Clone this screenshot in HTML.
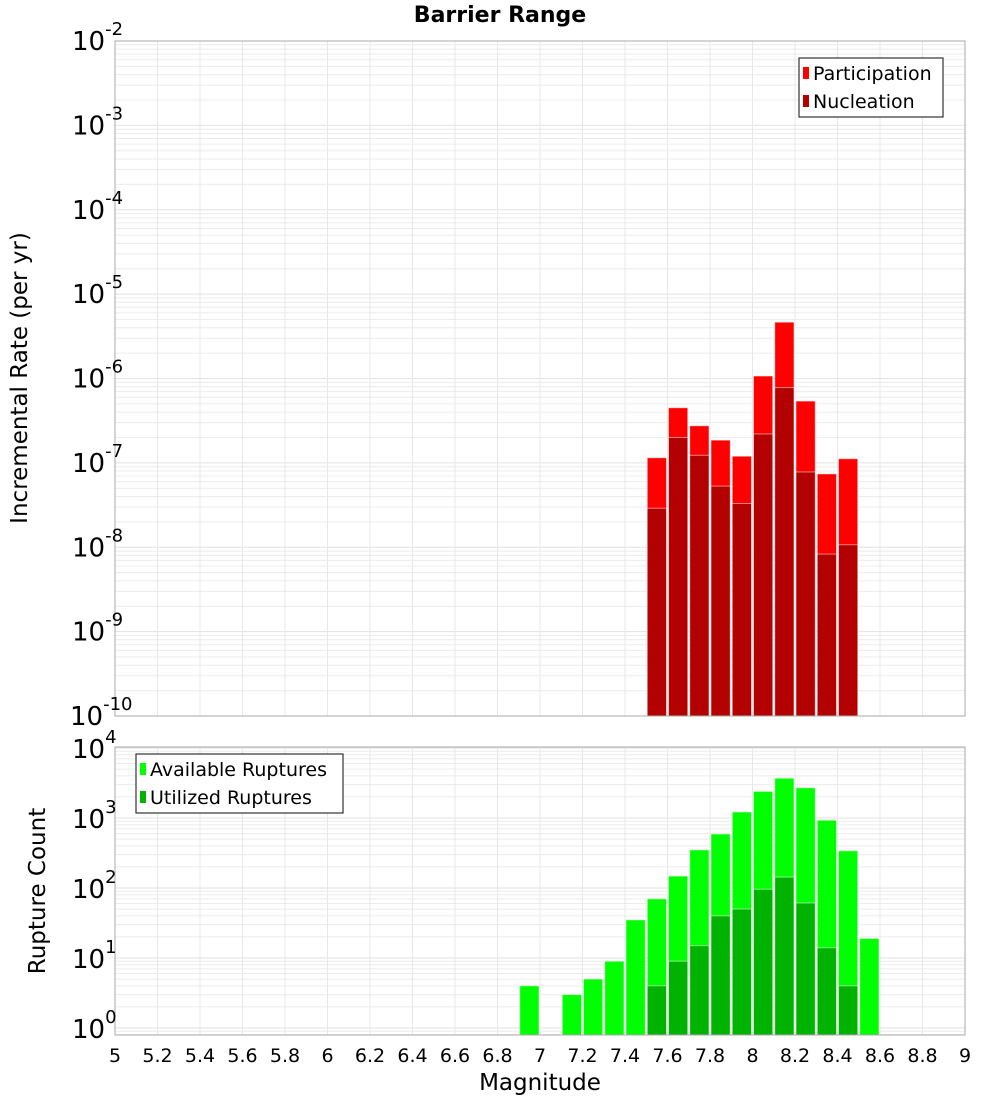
<!DOCTYPE html>
<html><head><meta charset="utf-8"><style>
body{margin:0;background:#fff;}
svg{display:block;font-family:"DejaVu Sans","Liberation Sans",sans-serif;}
</style></head><body>
<svg id="c" width="1000" height="1100"></svg>
<script>
const bins=[6.95,7.05,7.15,7.25,7.35,7.45,7.55,7.65,7.75,7.85,7.95,8.05,8.15,8.25,8.35,8.45,8.55];
const participation=[0,0,0,0,0,0,1.15e-7,4.5e-7,2.75e-7,1.86e-7,1.2e-7,1.07e-6,4.65e-6,5.4e-7,7.4e-8,1.12e-7,0];
const nucleation=[0,0,0,0,0,0,2.9e-8,2.0e-7,1.23e-7,5.3e-8,3.3e-8,2.2e-7,7.8e-7,7.8e-8,8.3e-9,1.07e-8,0];
const available=[4,0,3,5,9,35,70,148,350,590,1220,2400,3700,2700,930,340,19];
const utilized=[0,0,0,0,0,0,4,9,15,40,50,96,143,61,14,4,0];
const xTicks=[5,5.2,5.4,5.6,5.8,6,6.2,6.4,6.6,6.8,7,7.2,7.4,7.6,7.8,8,8.2,8.4,8.6,8.8,9];
const topExps=[-2,-3,-4,-5,-6,-7,-8,-9,-10];
const botExps=[0,1,2,3,4];

const NS="http://www.w3.org/2000/svg";
const svg=document.getElementById('c');
function el(t,a,p){const e=document.createElementNS(NS,t);for(const k in a)e.setAttribute(k,a[k]);(p||svg).appendChild(e);return e;}
const X0=115,X1=965;
const xs=m=>X0+(m-5)/4*(X1-X0);
const T0=41,T1=716;
const yTop=v=>T0+(-2-Math.log10(v))*(T1-T0)/8;
const B0=747,B1=1035;
const yBot=v=>1028-70*Math.log10(v);

function panel(y0,y1,name,yf,eMin,eMax){
  const g=el('g',{});
  
  
  el('rect',{x:X0,y:y0,width:X1-X0,height:y1-y0,fill:'#fff'},g);
  for(let e=eMin;e<eMax;e++)for(let k=1;k<10;k++){
    const y=yf(k*Math.pow(10,e));
    if(y<y0||y>y1)continue;
    el('line',{x1:X0,x2:X1,y1:y,y2:y,stroke:k==1?'#e2e2e2':'#ececec','stroke-width':1},g);
  }
  xTicks.forEach(t=>{const x=xs(t);el('line',{x1:x,x2:x,y1:y0,y2:y1,stroke:'#e8e8e8','stroke-width':1},g);});
  return g;
}
panel(T0,T1,'top-plot-area',yTop,-10,-1);
panel(B0,B1,'bottom-plot-area',yBot,-1,5);

const bw=(xs(5.1)-xs(5))-2;
function bar(m,v,yf,base,fill,name){
  if(!v)return;
  const y=yf(v);
  const r=el('rect',{x:xs(m)-bw/2,y:y,width:bw,height:base-y,fill:fill,stroke:'rgba(255,255,255,0.5)','stroke-width':1});
  
  
}
bins.forEach((m,i)=>{bar(m,participation[i],yTop,T1,'#ff0000','participation-bar');});
bins.forEach((m,i)=>{bar(m,nucleation[i],yTop,T1,'#b30000','nucleation-bar');});
bins.forEach((m,i)=>{bar(m,available[i],yBot,B1,'#00ff00','available-bar');});
bins.forEach((m,i)=>{bar(m,utilized[i],yBot,B1,'#00b300','utilized-bar');});

el('rect',{x:X0,y:T0,width:X1-X0,height:T1-T0,fill:'none',stroke:'#aaa'});
el('rect',{x:X0,y:B0,width:X1-X0,height:B1-B0,fill:'none',stroke:'#aaa'});

function txt(x,y,s,a,name){const t=el('text',Object.assign({x:x,y:y},a));t.textContent=s;return t;}
function pow(x,y,e,name){
  const t=el('text',{x:x,y:y,'font-size':26,fill:'#000'});
  
  const a=document.createElementNS(NS,'tspan');a.textContent='10';t.appendChild(a);
  const b=document.createElementNS(NS,'tspan');b.setAttribute('dy','-15');b.setAttribute('font-size','18');b.textContent=e;t.appendChild(b);
}
topExps.forEach(e=>{pow(e==-10?70:72,yTop(Math.pow(10,e))+9,e,'y-tick-label');});
botExps.forEach(e=>{pow(72,yBot(Math.pow(10,e))+10,e,'y-tick-label');});
xTicks.forEach(t=>txt(xs(t),1062,String(t),{'text-anchor':'middle','font-size':19},'x-tick-label'));

txt(500,22,'Barrier Range',{'text-anchor':'middle','font-size':22,'font-weight':'bold'},'chart-title');
txt(540,1090,'Magnitude',{'text-anchor':'middle','font-size':23},'x-axis-title');
txt(0,0,'Incremental Rate (per yr)',{'text-anchor':'middle','font-size':23,transform:'translate(27,378) rotate(-90)'},'top-y-axis-title');
txt(0,0,'Rupture Count',{'text-anchor':'middle','font-size':23,transform:'translate(45,891) rotate(-90)'},'bottom-y-axis-title');

function legend(x,y,w,h,items,name){
  const g=el('g',{});
  el('rect',{x:x,y:y,width:w,height:h,fill:'#fff',stroke:'#333','stroke-width':1.2},g);
  items.forEach((it,i)=>{
    const cy=y+15+i*28;
    el('rect',{x:x+4,y:cy-6,width:6,height:12,fill:it[1]},g);
    const t=el('text',{x:x+14,y:cy+7,'font-size':19},g);t.textContent=it[0];
  });
}
legend(799,58,144,59,[['Participation','#ff0000'],['Nucleation','#b30000']],'top-legend');
legend(136,754,207,59,[['Available Ruptures','#00ff00'],['Utilized Ruptures','#00b300']],'bottom-legend');
</script>
</body></html>
